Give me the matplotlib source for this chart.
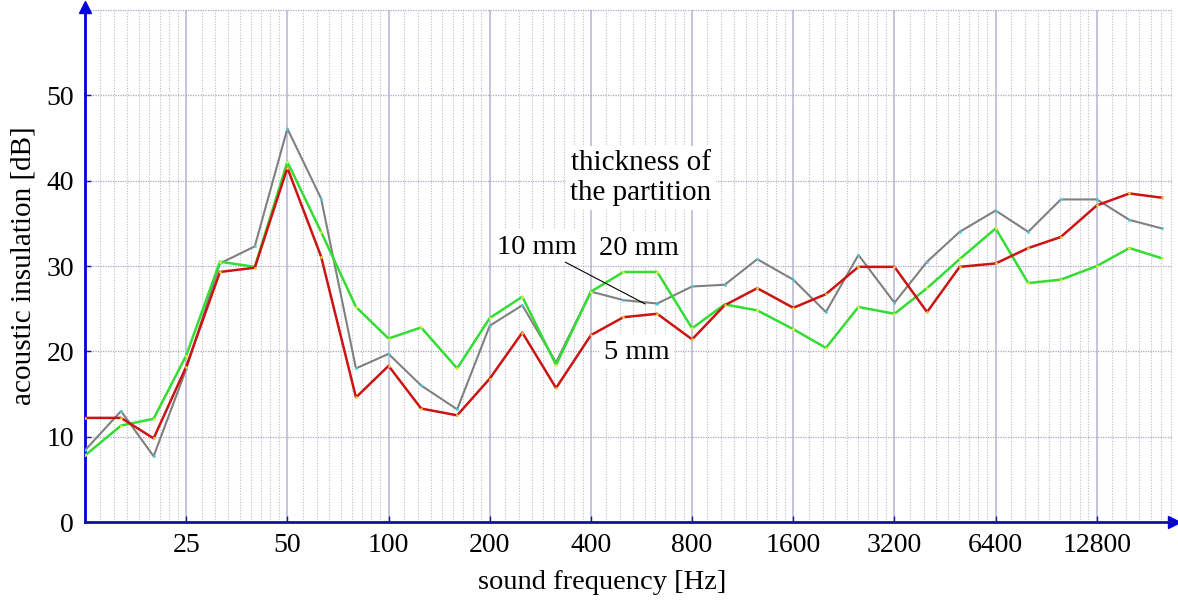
import matplotlib.pyplot as plt
from matplotlib.ticker import NullFormatter

plt.rcParams['font.family'] = ['Liberation Serif', 'DejaVu Serif']

# 1/3-octave band centres (Hz), as placed on the chart
freqs = [12.5, 16, 20, 25, 31.5, 40, 50, 63, 80, 100, 125, 160, 200, 250, 315, 400,
         500, 630, 800, 1000, 1250, 1600, 2000, 2500, 3200, 4000, 5000, 6400, 8000,
         10000, 12800, 16000, 20000]

# acoustic insulation [dB] for each partition thickness
ins_5mm = [12.2, 12.2, 9.8, 18.2, 29.3, 29.8, 41.5, 31.1, 14.6, 18.3, 13.3, 12.5, 16.8,
           22.2, 15.7, 21.9, 24.0, 24.4, 21.4, 25.4, 27.4, 25.1, 26.7, 29.9, 29.9, 24.6,
           29.9, 30.3, 32.1, 33.4, 37.1, 38.5, 38.0]
ins_10mm = [8.4, 13.0, 7.7, 17.9, 30.3, 32.3, 46.1, 37.9, 18.0, 19.7, 16.0, 13.2, 23.0,
            25.4, 18.7, 27.0, 26.0, 25.6, 27.6, 27.8, 30.8, 28.4, 24.6, 31.3, 25.7, 30.5,
            34.0, 36.5, 34.0, 37.8, 37.8, 35.4, 34.4]
ins_20mm = [7.8, 11.3, 12.1, 19.5, 30.5, 29.9, 42.2, 34.0, 25.2, 21.5, 22.8, 18.0, 23.9,
            26.4, 18.4, 27.0, 29.3, 29.3, 22.7, 25.5, 24.8, 22.6, 20.4, 25.2, 24.4, 27.4,
            30.8, 34.4, 28.0, 28.4, 30.0, 32.1, 30.9]

x_labels = ['25', '50', '100', '200', '400', '800', '1600', '3200', '6400', '12800']
major_ticks = [25, 50, 100, 200, 400, 800, 1600, 3200, 6400, 12800]
octave_starts = [12.5, 25, 50, 100, 200, 400, 800, 1600, 3200, 6400, 12800]

fig = plt.figure(figsize=(11.78, 6), dpi=100)
ax = fig.add_axes([85 / 1178, 78 / 600, 1087 / 1178, 512 / 600])

ax.set_xscale('log', base=2)
ax.set_xlim(12.5, 21420)
ax.set_ylim(0, 60)

# grid: solid lines on octaves, dotted lines inside each octave
minor = [a * (1 + j / 9) for a in octave_starts for j in range(1, 9)]
minor = [m for m in minor if m < 21420]
ax.set_xticks(major_ticks)
ax.set_xticklabels(x_labels)
ax.set_xticks(minor, minor=True)
ax.xaxis.set_minor_formatter(NullFormatter())
ax.set_yticks([0, 10, 20, 30, 40, 50])
ax.grid(True, which='major', axis='x', color='#b4b4d4', lw=1.1, ls='-')
ax.grid(True, which='minor', axis='x', color='#bcbccc', lw=0.8, ls=(0, (1, 1.5)))
ax.grid(True, which='major', axis='y', color='#a8a8c8', lw=0.9, ls=(0, (1, 1)))
ax.axhline(60, color='#a8a8c8', lw=0.9, ls=(0, (1, 1)), clip_on=False)
ax.set_axisbelow(True)

ax.plot(freqs, ins_10mm, color='#808080', lw=1.5, marker='o', ms=2,
        mfc='#40d0e0', mec='none', zorder=3)
ax.plot(freqs, ins_20mm, color='#33dd33', lw=1.8, marker='o', ms=2,
        mfc='#e8f040', mec='none', zorder=4)
ax.plot(freqs, ins_5mm, color='#cc1414', lw=1.8, marker='o', ms=2,
        mfc='#e8d040', mec='none', zorder=5)

for s in ['top', 'right']:
    ax.spines[s].set_visible(False)
ax.spines['left'].set_color('#0000dd')
ax.spines['left'].set_linewidth(2)
ax.spines['bottom'].set_color('#12129a')
ax.spines['bottom'].set_linewidth(2)
ax.plot([0], [1.005], marker='^', color='#0000dd', ms=9, transform=ax.transAxes, clip_on=False)
ax.plot([1.002], [0], marker='>', color='#0000dd', ms=9, transform=ax.transAxes, clip_on=False)

ax.tick_params(axis='both', which='major', direction='in', length=4, width=1,
               color='#12129a', labelsize=20, pad=8)
ax.tick_params(axis='x', which='minor', length=0)

ax.set_xlabel('sound frequency [Hz]', fontsize=20.5)
ax.xaxis.set_label_coords((602 - 85) / 1087, -0.093)
ax.set_ylabel('acoustic insulation [dB]', fontsize=21)
ax.yaxis.set_label_coords(-0.045, 0.5)

box = dict(facecolor='white', edgecolor='none', pad=3)
ax.text(563, 40.3, 'thickness of\nthe partition', fontsize=21, ha='center', va='center',
        linespacing=1.2, bbox=box, zorder=6)
ax.text(276, 32.2, '10 mm', fontsize=20.5, ha='center', va='center', bbox=box, zorder=6)
ax.text(555, 32.0, '20 mm', fontsize=20.5, ha='center', va='center', bbox=box, zorder=6)
ax.text(548, 19.9, '5 mm', fontsize=20.5, ha='center', va='center', bbox=box, zorder=6)
ax.annotate('', xy=(590, 25.4), xytext=(330, 30.6),
            arrowprops=dict(arrowstyle='-', lw=0.8, color='black'), zorder=7)

plt.savefig('out.png', dpi=100)
